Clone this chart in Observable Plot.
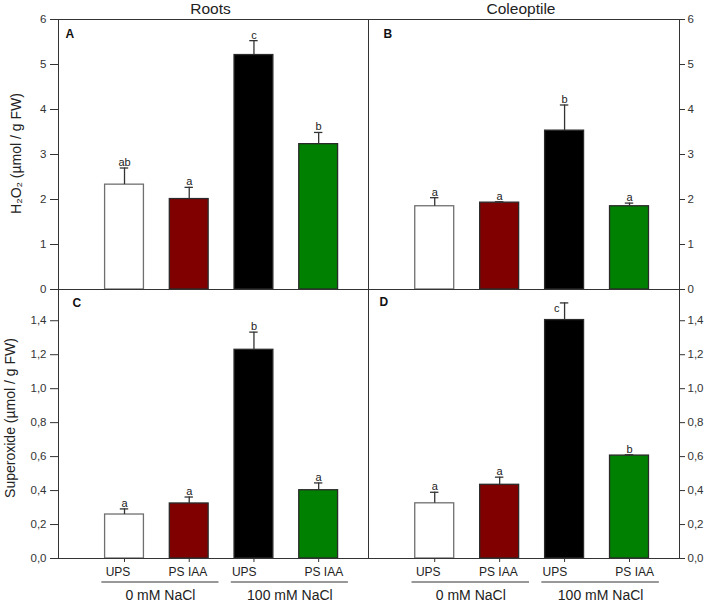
<!DOCTYPE html>
<html><head><meta charset="utf-8">
<script src="https://cdn.jsdelivr.net/npm/d3@7"></script>
<script src="https://cdn.jsdelivr.net/npm/@observablehq/plot@0.6"></script>
<style>
html,body{margin:0;padding:0;background:#fff;}
#chart{position:relative;width:708px;height:602px;font-family:"Liberation Sans",Arial,sans-serif;}
#chart svg{position:absolute;left:0;top:0;}
</style></head><body><div id="chart"></div>
<script>
// ---- data ----
const treatments = ["UPS", "PS IAA", "UPS", "PS IAA"];
const saltGroups = ["0 mM NaCl", "100 mM NaCl"];
const saltOfBar = [0, 0, 1, 1];
const barColors = ["#ffffff", "#800000", "#000000", "#008000"];
const barEdges = ["#707070", "#2a2a2a", "#2a2a2a", "#2a2a2a"];

const rootsH2O2 = [2.33, 2.01, 5.21, 3.23];
const rootsH2O2Err = [0.37, 0.26, 0.32, 0.26];
const rootsH2O2Letters = ["ab", "a", "c", "b"];

const coleH2O2 = [1.85, 1.93, 3.53, 1.85];
const coleH2O2Err = [0.19, 0.02, 0.57, 0.07];
const coleH2O2Letters = ["a", "a", "b", "a"];

const rootsSup = [0.259, 0.324, 1.229, 0.402];
const rootsSupErr = [0.033, 0.038, 0.104, 0.043];
const rootsSupLetters = ["a", "a", "b", "a"];

const coleSup = [0.325, 0.434, 1.404, 0.606];
const coleSupErr = [0.065, 0.045, 0.101, 0.005];
const coleSupLetters = ["a", "a", "c", "b"];

const h2o2Ticks = [0, 1, 2, 3, 4, 5, 6];
const supTicks = [0, 0.2, 0.4, 0.6, 0.8, 1.0, 1.2, 1.4];
const colTitles = ["Roots", "Coleoptile"];
const panelTags = ["A", "B", "C", "D"];
const yTitles = ["H\u2082O\u2082 (\u00b5mol / g FW)", "Superoxide (\u00b5mol / g FW)"];

// ---- layout ----
const W = 708, H = 602;
const xLeft = 58, xMid = 368, xRight = 679;
const yTop = 19, ySplit = 289, yBottom = 558;
const labelShift = [-0.1, -0.02, -0.15, 0.08];
const FONT = "Liberation Sans, Arial, sans-serif";
const commaFmt = d => d3.format(".1f")(d).replace(".", ",");

function panel(o) {
  const rows = treatments.map((t, i) => ({
    pos: i + 1, treat: t, value: o.values[i], top: o.values[i] + o.errs[i],
    letter: o.letters[i], fill: barColors[i], edge: barEdges[i], group: saltOfBar[i]
  }));
  const ml = o.col === 0 ? xLeft : xMid;
  const mr = o.col === 0 ? W - xMid : W - xRight;
  const mt = o.row === 0 ? yTop : ySplit;
  const mb = o.row === 0 ? H - ySplit : H - yBottom;
  const plotH = H - mt - mb;
  const room = 16 / plotH * o.yMax;
  const marks = [
    Plot.rect(rows, {x1: d => d.pos - 0.3, x2: d => d.pos + 0.3, y1: () => 0, y2: "value",
      fill: "fill", stroke: "edge", strokeWidth: 1.3}),
    Plot.ruleX(rows, {x: "pos", y1: "value", y2: "top", stroke: "#333", strokeWidth: 1.3}),
    Plot.ruleY(rows, {x1: d => d.pos - 0.065, x2: d => d.pos + 0.065, y: "top", stroke: "#333", strokeWidth: 1.3}),
    Plot.text(rows.filter(d => d.top + room <= o.yMax), {x: "pos", y: "top", text: "letter",
      lineAnchor: "bottom", dy: -2, fontSize: 11, fill: "#222"}),
    Plot.text(rows.filter(d => d.top + room > o.yMax), {x: "pos", y: "top", text: "letter",
      lineAnchor: "top", textAnchor: "end", dx: -5, dy: 1, fontSize: 11, fill: "#222"}),
    Plot.frame({stroke: "#333"}),
    Plot.axisY(o.ticks, {anchor: o.col === 0 ? "left" : "right", tickSize: o.col === 0 ? 8 : 5,
      tickPadding: o.col === 0 ? 4 : 3, tickFormat: o.fmt, label: null, fontSize: 11.5, color: "#333"}),
    Plot.text([o.tag], {frameAnchor: "top-left", textAnchor: "start", dx: o.tagDx, dy: o.tagDy, lineAnchor: "bottom",
      fontWeight: "bold", fontSize: 12, fill: "#111"})
  ];
  if (o.row === 0) {
    marks.push(Plot.text([colTitles[o.col]], {frameAnchor: "top", textAnchor: "middle", lineAnchor: "bottom",
      dy: -6, dx: -3, fontSize: 15.5, fill: "#222"}));
  }
  if (o.col === 0) {
    marks.push(Plot.text([yTitles[o.row]], {frameAnchor: "left", rotate: -90, textAnchor: "middle",
      lineAnchor: "bottom", dx: o.yLabelDx, dy: o.yLabelDy, fontSize: 14, fill: "#222"}));
  }
  if (o.row === 1) {
    const groups = saltGroups.map((g, gi) => {
      const ps = rows.filter(d => d.group === gi).map(d => d.pos);
      const x1 = d3.min(ps) - 0.35, x2 = d3.max(ps) + 0.46;
      return {label: g, x1, x2, mid: (x1 + x2) / 2};
    });
    marks.push(
      Plot.axisX(rows.map(d => d.pos), {tickSize: 4, tickFormat: () => "", label: null, color: "#333"}),
      Plot.text(rows, {x: d => d.pos + labelShift[d.pos - 1], text: "treat", frameAnchor: "bottom",
        textAnchor: "middle", lineAnchor: "bottom", dy: 17, fontSize: 12, fill: "#222"}),
      Plot.ruleY(groups, {x1: "x1", x2: "x2", y: () => 0, dy: 23.5, stroke: "#333", strokeWidth: 1}),
      Plot.text(groups, {x: "mid", text: "label", frameAnchor: "bottom", textAnchor: "middle",
        lineAnchor: "bottom", dy: 41, fontSize: 14, fill: "#222"})
    );
  }
  const opts = {
    width: W, height: H,
    marginLeft: ml, marginRight: mr, marginTop: mt, marginBottom: mb,
    x: {domain: [-0.02, 4.77]},
    y: {domain: [0, o.yMax]},
    style: {background: "transparent", overflow: "visible", fontFamily: FONT, fontSize: "11px", color: "#222"},
    marks
  };
  if (o.row === 0) opts.x.axis = null;
  return Plot.plot(opts);
}

const chart = document.getElementById("chart");
const fmtInt = d => String(d);
chart.append(panel({values: rootsH2O2, errs: rootsH2O2Err, letters: rootsH2O2Letters, col: 0, row: 0,
  yMax: 6, ticks: h2o2Ticks, fmt: fmtInt, tag: panelTags[0], tagDx: 7, tagDy: 18, yLabelDx: -38, yLabelDy: -1}));
chart.append(panel({values: coleH2O2, errs: coleH2O2Err, letters: coleH2O2Letters, col: 1, row: 0,
  yMax: 6, ticks: h2o2Ticks, fmt: fmtInt, tag: panelTags[1], tagDx: 15, tagDy: 18.5}));
chart.append(panel({values: rootsSup, errs: rootsSupErr, letters: rootsSupLetters, col: 0, row: 1,
  yMax: 1.584, ticks: supTicks, fmt: commaFmt, tag: panelTags[2], tagDx: 14, tagDy: 17.5, yLabelDx: -44, yLabelDy: -6}));
chart.append(panel({values: coleSup, errs: coleSupErr, letters: coleSupLetters, col: 1, row: 1,
  yMax: 1.584, ticks: supTicks, fmt: commaFmt, tag: panelTags[3], tagDx: 11, tagDy: 16}));
</script>
</body></html>
